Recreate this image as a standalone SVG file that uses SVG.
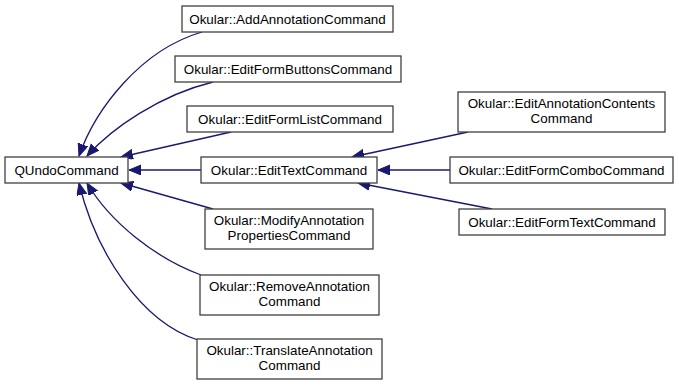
<svg xmlns="http://www.w3.org/2000/svg" width="679" height="386" viewBox="0 0 679 386">
<style>
.box{fill:#ffffff;stroke:#404040;stroke-width:1.3}
.lbl{font-family:"Liberation Sans",Arial,sans-serif;font-size:13.4px;fill:#000000;text-anchor:middle}
.edge{fill:none;stroke:#191970;stroke-width:1.3}
</style>
<defs>
<marker id="ah" markerUnits="userSpaceOnUse" markerWidth="13" markerHeight="11" refX="12" refY="5" orient="auto">
<path d="M0,0 L12,5 L0,10 z" fill="#191970" stroke="#191970" stroke-width="1"/>
</marker>
</defs>
<g id="connectors">
<path class="edge" marker-end="url(#ah)" d="M202,32 C140,50 95,110 79,156"/>
<path class="edge" marker-end="url(#ah)" d="M213,82 C160,95 112,128 87,156"/>
<path class="edge" marker-end="url(#ah)" d="M231,132 L121,157"/>
<path class="edge" marker-end="url(#ah)" d="M201,170 L129,170"/>
<path class="edge" marker-end="url(#ah)" d="M213,209 L121,183"/>
<path class="edge" marker-end="url(#ah)" d="M201,275 C155,258 110,222 87,183"/>
<path class="edge" marker-end="url(#ah)" d="M198,340 C140,322 95,250 79,183"/>
<path class="edge" marker-end="url(#ah)" d="M468,132 L352,157"/>
<path class="edge" marker-end="url(#ah)" d="M450,170 L378,170"/>
<path class="edge" marker-end="url(#ah)" d="M492,209 L358,183"/>
</g>
<g id="n_qundo"><rect class="box" x="5" y="157" width="123" height="26"/><text class="lbl" x="66.5" y="174.5">QUndoCommand</text></g>
<g id="n_add"><rect class="box" x="182" y="6" width="211" height="26"/><text class="lbl" x="287.5" y="23.5">Okular::AddAnnotationCommand</text></g>
<g id="n_buttons"><rect class="box" x="175" y="56" width="226" height="26"/><text class="lbl" x="288" y="73.5">Okular::EditFormButtonsCommand</text></g>
<g id="n_list"><rect class="box" x="187" y="106" width="206" height="26"/><text class="lbl" x="290" y="123.5">Okular::EditFormListCommand</text></g>
<g id="n_edittext"><rect class="box" x="201" y="157" width="176" height="26"/><text class="lbl" x="289" y="174.5">Okular::EditTextCommand</text></g>
<g id="n_modify"><rect class="box" x="205" y="209" width="168" height="40"/><text class="lbl" x="289" y="225">Okular::ModifyAnnotation</text><text class="lbl" x="289" y="240">PropertiesCommand</text></g>
<g id="n_remove"><rect class="box" x="200" y="275" width="179" height="40"/><text class="lbl" x="289.5" y="291">Okular::RemoveAnnotation</text><text class="lbl" x="289.5" y="306">Command</text></g>
<g id="n_translate"><rect class="box" x="197" y="339" width="185" height="40"/><text class="lbl" x="289.5" y="355">Okular::TranslateAnnotation</text><text class="lbl" x="289.5" y="370">Command</text></g>
<g id="n_contents"><rect class="box" x="458" y="92" width="207" height="40"/><text class="lbl" x="561.5" y="108">Okular::EditAnnotationContents</text><text class="lbl" x="561.5" y="123">Command</text></g>
<g id="n_combo"><rect class="box" x="450" y="157" width="223" height="26"/><text class="lbl" x="561.5" y="174.5">Okular::EditFormComboCommand</text></g>
<g id="n_formtext"><rect class="box" x="459" y="209" width="206" height="26"/><text class="lbl" x="562" y="226.5">Okular::EditFormTextCommand</text></g>
</svg>
